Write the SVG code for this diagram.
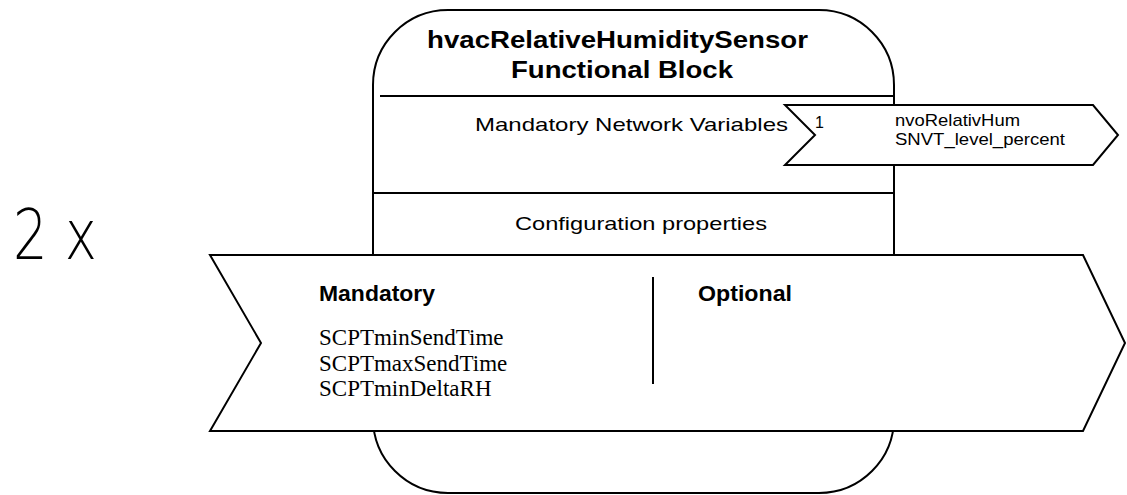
<svg xmlns="http://www.w3.org/2000/svg" width="1127" height="495" viewBox="0 0 1127 495">
<style>
.ln{fill:none;stroke:#000;stroke-width:2}
.sh{fill:#fff;stroke:#000;stroke-width:2;stroke-linejoin:miter}
.sans{font-family:"Liberation Sans",Arial,sans-serif;fill:#000}
.b{font-weight:bold}
.serif{font-family:"Liberation Serif","Times New Roman",serif;fill:#000;font-size:23px}
</style>
<rect width="1127" height="495" fill="#fff"/>
<g id="multiplier">
<text x="13" y="259" font-family="'DejaVu Sans',sans-serif" font-weight="200" font-size="70" textLength="84" lengthAdjust="spacingAndGlyphs">2 x</text>
</g>
<g id="functional-block">
<rect class="sh" x="373" y="10" width="521" height="483" rx="75" ry="75"/>
<text class="sans b" x="427" y="48" font-size="24" textLength="381" lengthAdjust="spacingAndGlyphs">hvacRelativeHumiditySensor</text>
<text class="sans b" x="511" y="78" font-size="24" textLength="222" lengthAdjust="spacingAndGlyphs">Functional Block</text>
<line class="ln" x1="380" y1="96" x2="894" y2="96"/>
<text class="sans" x="475" y="131" font-size="19" textLength="313" lengthAdjust="spacingAndGlyphs">Mandatory Network Variables</text>
<line class="ln" x1="373" y1="193" x2="894" y2="193"/>
<text class="sans" x="515" y="230" font-size="19" textLength="252" lengthAdjust="spacingAndGlyphs">Configuration properties</text>
</g>
<g id="nv-output">
<polygon class="sh" points="785,105 1093,105 1118,135 1093,165 785,165 815,135"/>
<text class="sans" x="815" y="128" font-size="16">1</text>
<text class="sans" x="895" y="126" font-size="17" textLength="125" lengthAdjust="spacingAndGlyphs">nvoRelativHum</text>
<text class="sans" x="895" y="145" font-size="17" textLength="170" lengthAdjust="spacingAndGlyphs">SNVT_level_percent</text>
</g>
<g id="config-properties">
<polygon class="sh" points="210,255 1083,255 1125,343 1083,431 210,431 261,343"/>
<text class="sans b" x="319" y="301" font-size="22" textLength="116" lengthAdjust="spacingAndGlyphs">Mandatory</text>
<text class="serif" x="319" y="345">SCPTminSendTime</text>
<text class="serif" x="319" y="371">SCPTmaxSendTime</text>
<text class="serif" x="319" y="396">SCPTminDeltaRH</text>
<text class="sans b" x="698" y="301" font-size="22" textLength="94" lengthAdjust="spacingAndGlyphs">Optional</text>
</g>
<g id="connectors">
<line class="ln" x1="653" y1="277" x2="653" y2="384"/>
</g>
</svg>
